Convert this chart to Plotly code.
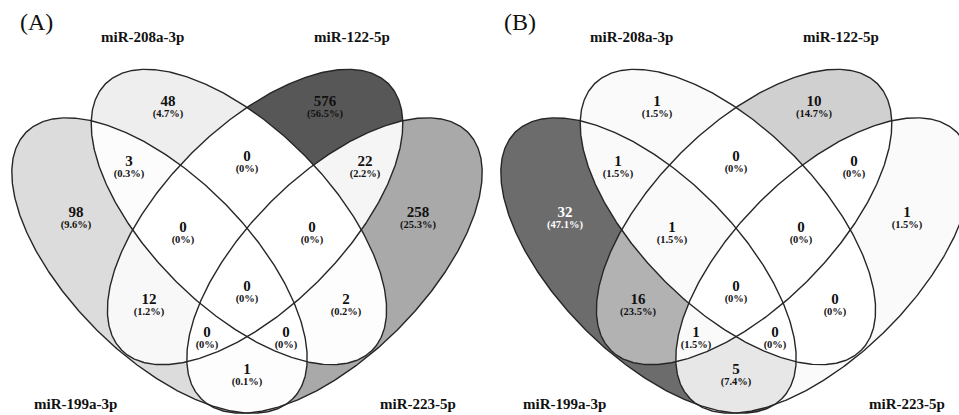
import numpy as np
import plotly.graph_objects as go

# ---------------- data ----------------
set_names = ["miR-199a-3p", "miR-208a-3p", "miR-122-5p", "miR-223-5p"]
panel_titles = ["(A)", "(B)"]
# region membership code: (199a, 208a, 122, 223)
region_codes = ["1000", "0100", "0010", "0001", "1100", "0110", "0011",
                "1110", "0111", "1010", "1111", "0101", "1011", "1101", "1001"]
counts_A = [98, 48, 576, 258, 3, 0, 22, 0, 0, 12, 0, 2, 0, 0, 1]
counts_B = [32, 1, 10, 1, 1, 0, 0, 1, 0, 16, 0, 0, 1, 0, 5]

# ---------------- styles / layout ----------------
fills_A = ["#dcdcdc", "#eeeeee", "#575757", "#a9a9a9", "#fcfcfc", "#ffffff", "#f5f5f5",
           "#ffffff", "#ffffff", "#f8f8f8", "#ffffff", "#fdfdfd", "#ffffff", "#ffffff", "#fdfdfd"]
fills_B = ["#6c6c6c", "#fafafa", "#d0d0d0", "#fafafa", "#fafafa", "#ffffff", "#ffffff",
           "#fafafa", "#ffffff", "#b2b2b2", "#ffffff", "#ffffff", "#fafafa", "#ffffff", "#e7e7e7"]
text_col_A = ["#111"] * 15
text_col_B = ["#fff"] + ["#111"] * 14

# label anchor (panel-local pixel coords)
lab_x = [76, 168, 325, 418, 129, 247, 365, 183, 312, 149, 247, 346, 207, 286, 247]
lab_y = [213, 102, 102, 213, 162, 157, 162, 228, 228, 300, 287, 300, 333, 333, 370]

# ellipse geometry (panel-local pixels): cx, cy, a, b, major-axis direction
s2 = 1 / np.sqrt(2)
EA, EB = 188.5, 90.0
ellipses = [
    (159.5, 265.5, EA, EB, (s2, s2)),     # miR-199a-3p
    (238.9, 217.0, EA, EB, (s2, s2)),     # miR-208a-3p
    (255.1, 217.0, EA, EB, (-s2, s2)),    # miR-122-5p
    (334.5, 265.5, EA, EB, (-s2, s2)),    # miR-223-5p
]
offsets = [0, 489]
title_x = [36, 31]
cat_pos = [(75, 404), (142, 37), (352, 37), (418, 404)]
FONT = "Liberation Serif"

fig = go.Figure()

gx = np.arange(0, 496) + 0.5
gy = np.arange(55, 415) + 0.5
GX, GY = np.meshgrid(gx, gy)
inside = []
for cx, cy, a, b, (ux, uy) in ellipses:
    dx, dy = GX - cx, GY - cy
    p = dx * ux + dy * uy
    q = -dx * uy + dy * ux
    inside.append((p / a) ** 2 + (q / b) ** 2 <= 1)

code_grid = np.full(GX.shape, np.nan)
for k, code in enumerate(region_codes):
    m = np.ones(GX.shape, bool)
    for i, ch in enumerate(code):
        m &= inside[i] if ch == "1" else ~inside[i]
    code_grid[m] = k

n = len(region_codes)
for pi, (off, counts, fills, tcols) in enumerate(zip(offsets, [counts_A, counts_B],
                                                      [fills_A, fills_B], [text_col_A, text_col_B])):
    cs = []
    for k, c in enumerate(fills):
        cs.append([k / n, c])
        cs.append([(k + 1) / n, c])
    fig.add_trace(go.Heatmap(x=gx + off, y=gy, z=code_grid, colorscale=cs,
                             zmin=-0.5, zmax=n - 0.5, showscale=False,
                             hoverinfo="skip", zsmooth=False))
    t = np.linspace(0, 2 * np.pi, 600)
    for cx, cy, a, b, (ux, uy) in ellipses:
        ex = cx + a * np.cos(t) * ux - b * np.sin(t) * uy + off
        ey = cy + a * np.cos(t) * uy + b * np.sin(t) * ux
        fig.add_trace(go.Scatter(x=ex, y=ey, mode="lines",
                                 line=dict(color="#262626", width=1.4),
                                 hoverinfo="skip"))
    total = sum(counts)
    pct = ["(0%)" if c == 0 else "({:.1f}%)".format(100 * c / total) for c in counts]
    fig.add_trace(go.Scatter(x=[x + off for x in lab_x], y=lab_y, mode="text",
                             text=["<b>%d</b>" % c for c in counts],
                             textfont=dict(family=FONT, size=15, color=tcols),
                             hoverinfo="skip"))
    fig.add_trace(go.Scatter(x=[x + off for x in lab_x], y=[y + 12.5 for y in lab_y],
                             mode="text", text=["<b>%s</b>" % s for s in pct],
                             textfont=dict(family=FONT, size=10.5, color=tcols),
                             hoverinfo="skip"))
    for name, (x, y) in zip(set_names, cat_pos):
        fig.add_annotation(x=x + off, y=y, text="<b>%s</b>" % name, showarrow=False,
                           font=dict(family=FONT, size=15, color="#111"),
                           xanchor="center", yanchor="middle")
    fig.add_annotation(x=title_x[pi] + off, y=22, text=panel_titles[pi], showarrow=False,
                       font=dict(family=FONT, size=24, color="#111"),
                       xanchor="center", yanchor="middle")

fig.update_layout(width=959, height=415, margin=dict(l=0, r=0, t=0, b=0),
                  paper_bgcolor="white", plot_bgcolor="white", showlegend=False)
fig.update_xaxes(range=[0, 959], visible=False, fixedrange=True)
fig.update_yaxes(range=[415, 0], visible=False, fixedrange=True)
fig.write_html("out.html", config={"displayModeBar": False},
               post_script="document.body.style.margin='0';document.body.style.overflow='hidden';")
